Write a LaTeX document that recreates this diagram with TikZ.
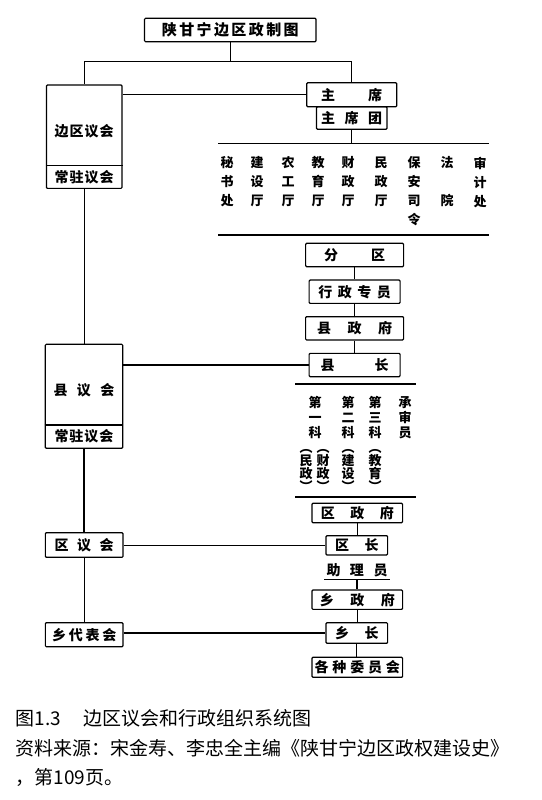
\documentclass[tikz,border=0pt]{standalone}
\usepackage{fontspec}
\newfontfamily\cjk{Noto Sans CJK SC}
\newcommand\gapchars[2]{\def\gapcharsgap{#1}\gapcharsloop#2\relax}
\def\gapcharsloop#1#2{#1\ifx#2\relax\else\hspace{\gapcharsgap pt}\expandafter\gapcharsloop\expandafter#2\fi}
\newcommand\vph{\vphantom{民}}
\begin{document}
\begin{tikzpicture}[x=1pt,y=-1pt,
  ln/.style={line width=1.1pt},
  bx/.style={draw, line width=1.2pt, rounded corners=1pt, inner sep=0pt, font=\cjk\bfseries\fontsize{14}{14}\selectfont},
  lbl/.style={inner sep=0pt, font=\cjk\bfseries\fontsize{14}{14}\selectfont},
  col/.style={inner sep=0pt, anchor=north, align=center, font=\cjk\bfseries\fontsize{13}{19}\selectfont},
  kcol/.style={inner sep=0pt, anchor=north, align=center, font=\cjk\bfseries\fontsize{13}{15}\selectfont},
  pcol/.style={inner sep=0pt, anchor=north, align=center, font=\cjk\bfseries\fontsize{13}{13}\selectfont},
  captext/.style={inner sep=0pt, anchor=west, font=\cjk\fontsize{19}{19}\selectfont}]
\useasboundingbox[fill=white] (0,0) rectangle (541,800);

% top
\node[bx, minimum width=171.5pt, minimum height=23.4pt, font=\cjk\bfseries\fontsize{15}{15}\selectfont] (title) at (230.3,30) {\gapchars{2.4}{陕甘宁边区政制图}};
\coordinate (tj) at (230.3,61.7);

\node[bx, minimum width=75.6pt, minimum height=103.3pt] (bq) at (84.2,136.7) {};
\draw[ln] (bq.west |- 0,165.7) -- (bq.east |- 0,165.7);
\node[lbl] (bqt) at (84.2,131.7) {\gapchars{1}{边区议会}};
\node[lbl] (bqc) at (84.2,177) {\gapchars{1}{常驻议会}};

\node[bx, minimum width=90pt, minimum height=24pt] (zx) at (351.7,94.7) {主\hspace{33pt}席};
\node[bx, minimum width=70.4pt, minimum height=22.6pt] (zxt) at (351.7,118) {\gapchars{9.5}{主席团}};

\draw[ln] (title.south) -- (tj);
\draw[ln] (bq.north) |- (tj) -| (zx.north);
\draw[ln] (bq.east |- zx.west) -- (zx.west);

% departments
\coordinate (dtl) at (218,143.3); \coordinate (dtr) at (489,143.3);
\coordinate (dbl) at (218,235); \coordinate (dbr) at (489,235);
\draw[ln] (dtl) -- (dtr);
\draw[line width=1.8pt] (dbl) -- (dbr);
\draw[ln] (zxt.south) -- (zxt.south |- dtl);
\node[col] (d1) at (227,156.5) {秘\\书\\处};
\node[col] (d2) at (257,156.5) {建\\设\\厅};
\node[col] (d3) at (288,156.5) {农\\工\\厅};
\node[col] (d4) at (318,156.5) {教\\育\\厅};
\node[col] (d5) at (348,156.5) {财\\政\\厅};
\node[col] (d6) at (381,156.5) {民\\政\\厅};
\node[col] (d7) at (414,156.5) {保\\安\\司\\令};
\node[col] (d8) at (447,156.5) {法\\[19pt]院};
\node[col] (d9) at (480,156.5) {审\\计\\处};

% county
\node[bx, minimum width=98pt, minimum height=23.4pt] (fq) at (354.6,255) {分\hspace{33pt}区};
\node[bx, minimum width=91pt, minimum height=23.3pt] (xzzy) at (354.6,291.7) {\gapchars{5.5}{行政专员}};
\node[bx, minimum width=98pt, minimum height=23.3pt] (xzf) at (354.6,328.3) {\gapchars{16.5}{县政府}};
\node[bx, minimum width=91pt, minimum height=23.3pt] (xzz) at (354.6,365) {县\hspace{40pt}长};
\draw[ln] (fq) -- (xzzy);
\draw[ln] (xzzy) -- (xzf);
\draw[ln] (xzf) -- (xzz);

\node[bx, minimum width=77.4pt, minimum height=104pt] (xyh) at (84,396.3) {};
\draw[ln] (xyh.west |- 0,425) -- (xyh.east |- 0,425);
\node[lbl] (xyht) at (84,390) {\gapchars{9.5}{县议会}};
\node[lbl] (xyhc) at (84,436.7) {\gapchars{1}{常驻议会}};
\draw[ln] (bq.south) -- (bq.south |- xyh.north);
\draw[ln] (xyh.east |- xzz.west) -- (xzz.west);

\coordinate (s1l) at (295,384); \coordinate (s1r) at (416,384);
\coordinate (s2l) at (295,497); \coordinate (s2r) at (416,497);
\draw[line width=1.4pt] (s1l) -- (s1r);
\draw[line width=1.4pt] (s2l) -- (s2r);

\node[kcol] (k1) at (315,396.5) {第\\一\\科};
\node[kcol] (k2) at (348,396.5) {第\\二\\科};
\node[kcol] (k3) at (375,396.5) {第\\三\\科};
\node[kcol] (k4) at (405,396.5) {承\\审\\员};
\node[pcol] (p1) at (306,441.5) {\vph︵\\民\\政\\\vph︶};
\node[pcol] (p2) at (323,441.5) {\vph︵\\财\\政\\\vph︶};
\node[pcol] (p3) at (348,441.5) {\vph︵\\建\\设\\\vph︶};
\node[pcol] (p4) at (375,441.5) {\vph︵\\教\\育\\\vph︶};

% district and township
\node[bx, minimum width=90.6pt, minimum height=19.4pt] (qzf) at (357.3,513) {\gapchars{15.5}{区政府}};
\node[bx, minimum width=61.6pt, minimum height=19.3pt] (qz) at (356.8,545.3) {区\hspace{15.5pt}长};
\node[bx, minimum width=77.7pt, minimum height=24.6pt] (qyh) at (84.2,545) {\gapchars{8.5}{区议会}};
\node[lbl] (zly) at (357,570.7) {\gapchars{9.5}{助理员}};
\coordinate (ul) at (324,579.3); \coordinate (ur) at (389.7,579.3);
\node[bx, minimum width=90.6pt, minimum height=19.3pt] (xzf2) at (357.3,599.7) {\gapchars{16.5}{乡政府}};
\node[bx, minimum width=61.6pt, minimum height=20.6pt] (xz2) at (356.8,633) {乡\hspace{15.5pt}长};
\node[bx, minimum width=77.7pt, minimum height=24pt] (xdb) at (84.2,634.7) {\gapchars{2.8}{乡代表会}};
\node[bx, minimum width=90.6pt, minimum height=20pt] (gz) at (357.3,667.3) {\gapchars{3.8}{各种委员会}};

\draw[ln] (qzf.south) -- (qzf.south |- qz.north);
\draw[ln] (xyh.south) -- (xyh.south |- qyh.north);
\draw[ln] (qyh.south) -- (qyh.south |- xdb.north);
\draw[ln] (qyh.east |- qz.west) -- (qz.west);
\draw[ln] (ul) -- (ur);
\draw[ln] (zly.south |- ul) -- (zly.south |- xzf2.north);
\draw[ln] (xzf2.south) -- (xzf2.south |- xz2.north);
\draw[ln] (xz2.south) -- (xz2.south |- gz.north);
\draw[ln] (xdb.east |- xz2.west) -- (xz2.west);

% caption
\node[captext] (c1a) at (15.7,718.3) {图1.3};
\node[captext] (c1b) at (83.7,718.3) {边区议会和行政组织系统图};
\node[captext] (c2) at (15.7,748.3) {资料来源：宋金寿、李忠全主编《陕甘宁边区政权建设史》};
\node[captext] (c3) at (15.7,777.3) {，第109页。};
\end{tikzpicture}
\end{document}
